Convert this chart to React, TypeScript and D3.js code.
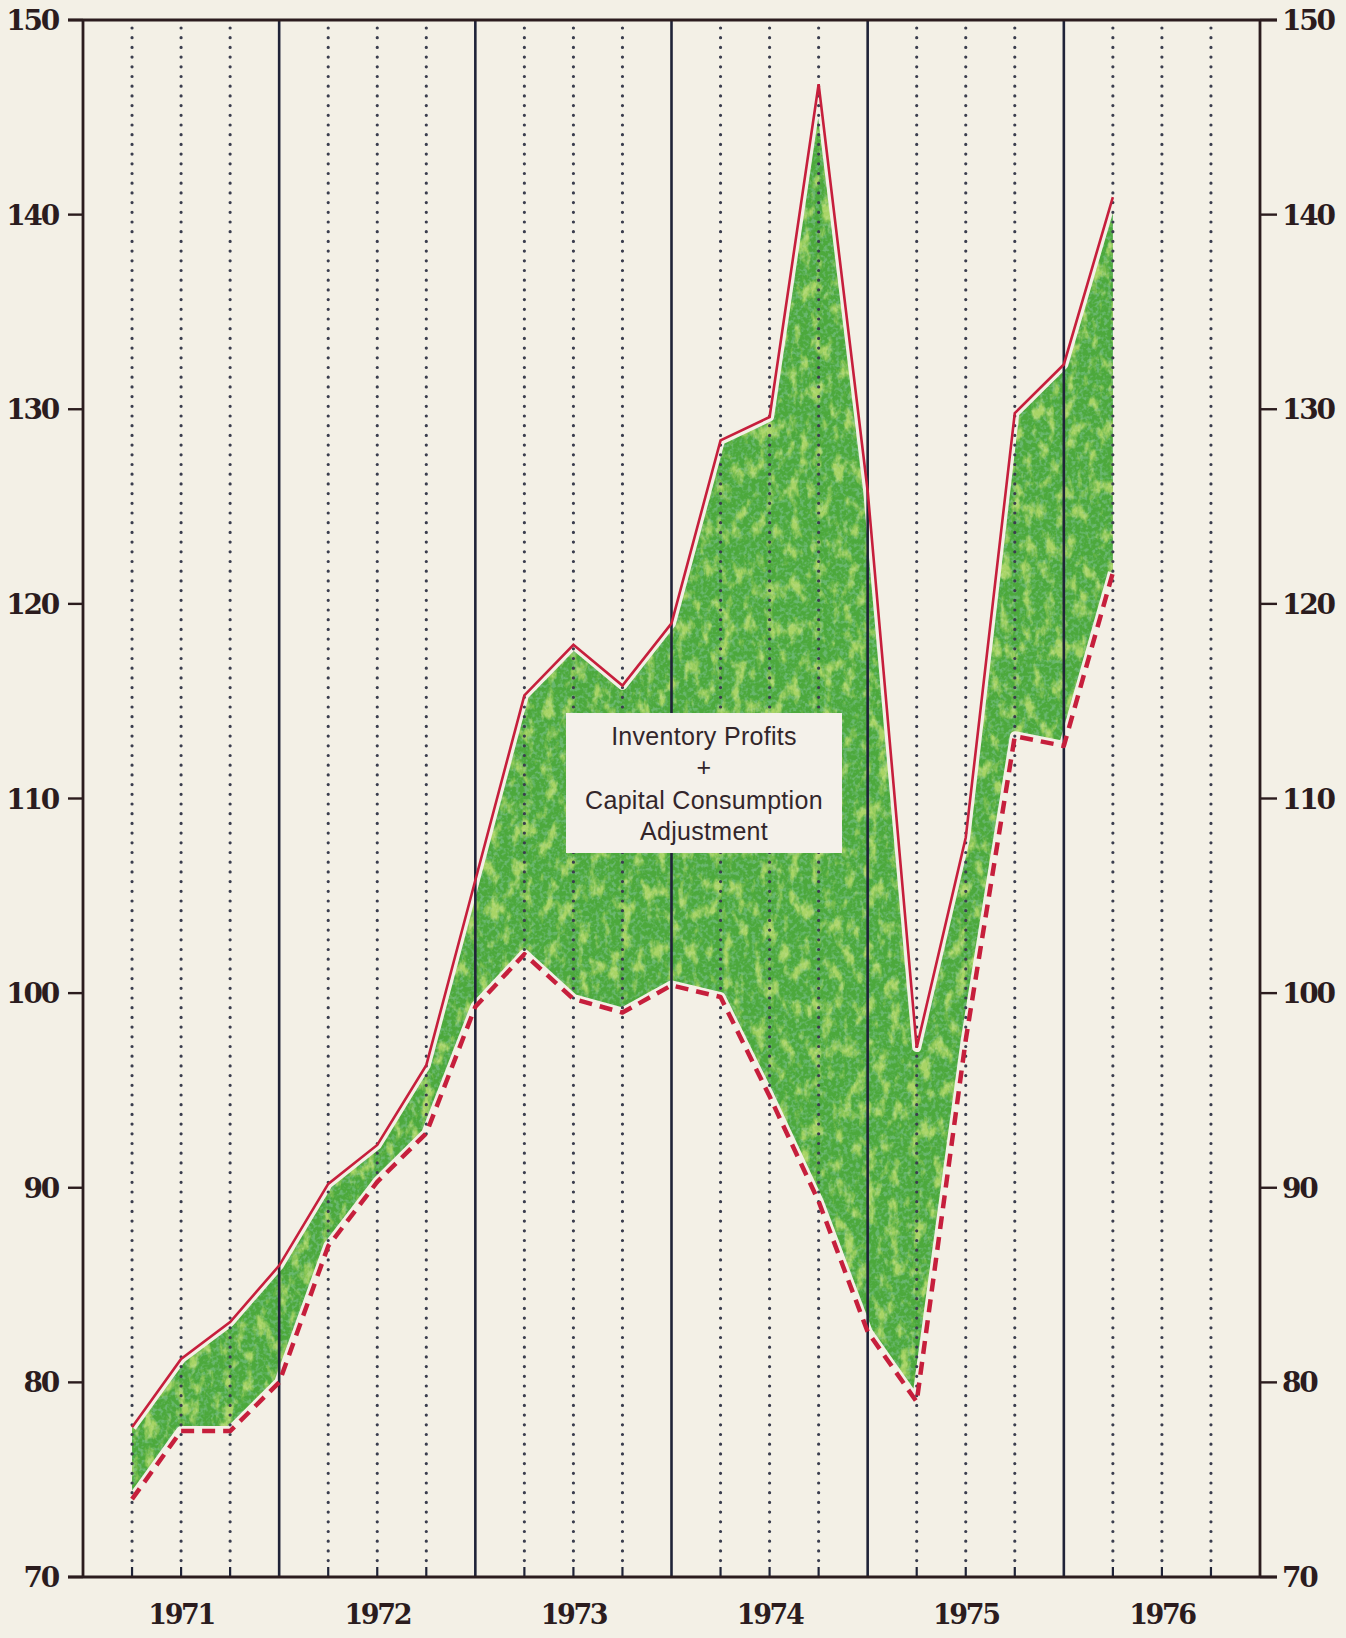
import * as d3 from 'd3';
import React from 'react';

// quarterly points, plotted at the end of each quarter
const quarters = [
	'1971-1', '1971-2', '1971-3', '1971-4',
	'1972-1', '1972-2', '1972-3', '1972-4',
	'1973-1', '1973-2', '1973-3', '1973-4',
	'1974-1', '1974-2', '1974-3', '1974-4',
	'1975-1', '1975-2', '1975-3', '1975-4',
	'1976-1',
];
// upper line: profits incl. inventory profits + capital consumption adj.
const upperValues = [
	77.7, 81.2, 83.1, 86.0, 90.2, 92.2, 96.3, 105.8, 115.3, 117.9, 115.8,
	119.0, 128.4, 129.6, 146.7, 125.8, 97.2, 108.0, 129.8, 132.3, 140.9,
];
// lower dashed line
const lowerValues = [
	74.0, 77.5, 77.5, 80.0, 87.0, 90.3, 92.8, 99.3, 102.0, 99.7, 99.0,
	100.4, 99.8, 94.7, 89.3, 82.6, 79.0, 97.6, 113.2, 112.7, 121.6,
];
const yTicks = [70, 80, 90, 100, 110, 120, 130, 140, 150];
const years = [1971, 1972, 1973, 1974, 1975, 1976];
const legendLines = ['Inventory Profits', '+', 'Capital Consumption', 'Adjustment'];

const W = 1346;
const H = 1638;
const paper = '#f3f0e6';
const red = '#c61f3c';
const ink = '#2b1c1e';
const navy = '#1f2338';
const numFont = '"DejaVu Serif", serif';

export default function App() {
	const x = d3.scaleLinear().domain([1971, 1977]).range([83, 1260]);
	const y = d3.scaleLinear().domain([70, 150]).range([1577, 20]);

	const pts = quarters.map((q, i) => {
		const [yr, qq] = q.split('-').map(Number);
		return { t: yr + qq / 4, hi: upperValues[i], lo: lowerValues[i] };
	});

	const area = d3
		.area<any>()
		.x(d => x(d.t))
		.y0(d => y(d.lo))
		.y1(d => y(d.hi))(pts) as string;
	const hiLine = d3.line<any>().x(d => x(d.t)).y(d => y(d.hi))(pts) as string;
	const loLine = d3.line<any>().x(d => x(d.t)).y(d => y(d.lo))(pts) as string;

	const quarterGrid = d3.range(1971, 1977, 0.25).filter(t => Math.abs(t - Math.round(t)) > 0.01);
	const yearGrid = d3.range(1972, 1977);
	const [top, bottom] = y.range().slice().reverse();
	const [left, right] = x.range();

	return (
		<svg
			width={W}
			height={H}
			style={{ position: 'absolute', left: 0, top: 0, background: paper }}
		>
			<defs>
				<filter id="yellowSpots" x="0" y="0" width="100%" height="100%">
					<feTurbulence type="fractalNoise" baseFrequency="0.09 0.05" numOctaves="4" seed="5" result="n" />
					<feColorMatrix
						in="n"
						type="matrix"
						values="0 0 0 0 0.78  0 0 0 0 0.88  0 0 0 0 0.22  4 0 0 0 -2.0"
						result="spots"
					/>
					<feComposite in="spots" in2="SourceAlpha" operator="in" />
				</filter>
				<filter id="darkSpots" x="0" y="0" width="100%" height="100%">
					<feTurbulence type="fractalNoise" baseFrequency="0.25" numOctaves="2" seed="11" result="n" />
					<feColorMatrix
						in="n"
						type="matrix"
						values="0 0 0 0 0.22  0 0 0 0 0.55  0 0 0 0 0.32  0 4 0 0 -1.8"
						result="spots"
					/>
					<feComposite in="spots" in2="SourceAlpha" operator="in" />
				</filter>
			</defs>

			{/* green band */}
			<path d={area} fill="#4ca93c" />
			<path d={area} fill="#000" filter="url(#darkSpots)" opacity={0.55} />
			<path d={area} fill="#000" filter="url(#yellowSpots)" opacity={0.6} />

			{/* white halo around the lines */}
			<path d={hiLine} fill="none" stroke={paper} strokeWidth={9} strokeLinejoin="round" />
			<path d={loLine} fill="none" stroke={paper} strokeWidth={10} strokeLinejoin="round" />

			{/* quarter dotted lines */}
			{quarterGrid.map(t => (
				<g key={t}>
					<line
						x1={x(t)}
						x2={x(t)}
						y1={top + 8}
						y2={bottom - 12}
						stroke="#3a3d4e"
						strokeWidth={3.2}
						strokeDasharray="0 9.7"
						strokeLinecap="round"
					/>
					<line x1={x(t)} x2={x(t)} y1={bottom - 10} y2={bottom} stroke={navy} strokeWidth={2.2} />
				</g>
			))}
			{/* year lines */}
			{yearGrid.map(t => (
				<line key={t} x1={x(t)} x2={x(t)} y1={top} y2={bottom} stroke={navy} strokeWidth={2.6} />
			))}

			{/* series lines */}
			<path d={hiLine} fill="none" stroke={red} strokeWidth={2.6} strokeLinejoin="miter" />
			<path
				d={loLine}
				fill="none"
				stroke={red}
				strokeWidth={4.5}
				strokeDasharray="13 8"
				strokeLinejoin="round"
			/>

			{/* frame */}
			<line x1={left} x2={left} y1={top} y2={bottom} stroke={ink} strokeWidth={2.8} />
			<line x1={right} x2={right} y1={top} y2={bottom} stroke={ink} strokeWidth={2.8} />
			<line x1={left - 15} x2={right + 17} y1={top} y2={top} stroke={ink} strokeWidth={2.8} />
			<line x1={left - 15} x2={right + 17} y1={bottom} y2={bottom} stroke={ink} strokeWidth={2.8} />

			{/* y ticks + labels both sides */}
			{yTicks.map(v => (
				<g key={v} fontFamily={numFont} fontWeight="bold" fontSize={28} fill={ink} letterSpacing={-2.2}>
					<line x1={left - 15} x2={left} y1={y(v)} y2={y(v)} stroke={ink} strokeWidth={2.4} />
					<line x1={right} x2={right + 17} y1={y(v)} y2={y(v)} stroke={ink} strokeWidth={2.4} />
					<text x={58} y={y(v)} dy="0.36em" textAnchor="end">
						{v}
					</text>
					<text x={right + 22} y={y(v)} dy="0.36em" textAnchor="start">
						{v}
					</text>
				</g>
			))}

			{/* year labels */}
			{years.map(yr => (
				<text
					key={yr}
					x={x(yr + 0.5)}
					y={1624}
					textAnchor="middle"
					fontFamily={numFont}
					fontWeight="bold"
					fontSize={27}
					letterSpacing={-2.4}
					fill={ink}
				>
					{yr}
				</text>
			))}

			{/* legend box */}
			<rect x={566} y={713} width={276} height={140} fill="#f4f1ea" />
			{legendLines.map((s, i) => (
				<text
					key={i}
					x={704}
					y={[745, 776, 809, 840][i]}
					textAnchor="middle"
					fontFamily='"Liberation Sans", sans-serif'
					fontSize={25}
					letterSpacing={0.3}
					fill="#33262a"
				>
					{s}
				</text>
			))}
		</svg>
	);
}
